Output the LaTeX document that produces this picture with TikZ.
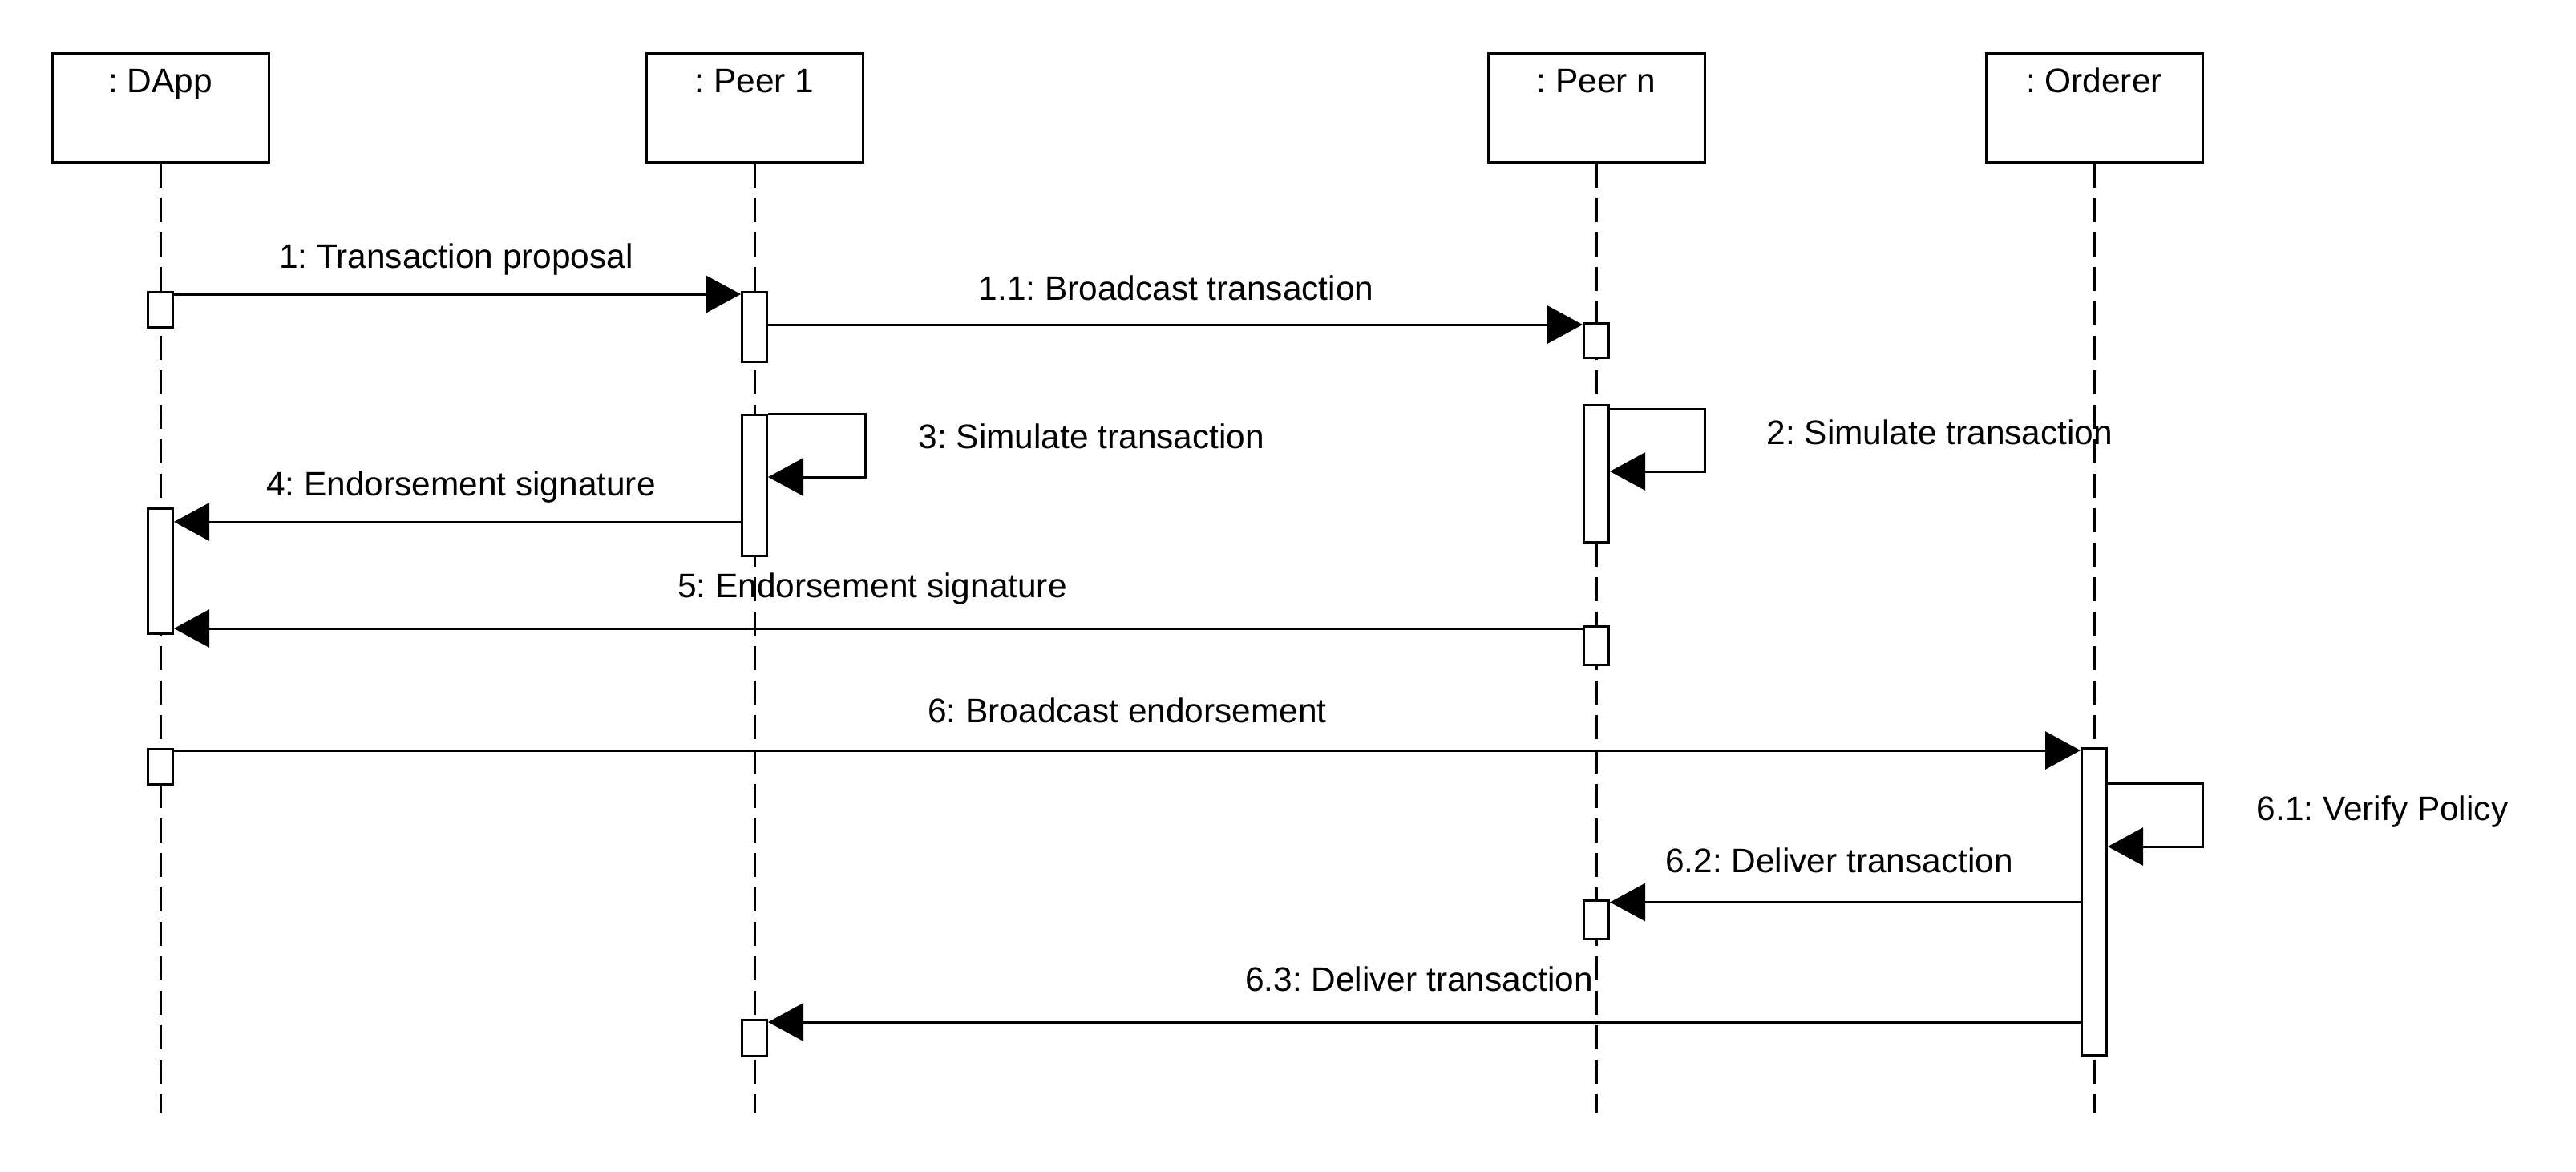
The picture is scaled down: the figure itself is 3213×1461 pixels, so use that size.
\documentclass[tikz,border=0pt]{standalone}
\usepackage{fontspec}
\setmainfont{Liberation Sans}
\frenchspacing
\usetikzlibrary{arrows.meta}

\begin{document}
\begin{tikzpicture}[x=0.25pt, y=-0.25pt,
    every node/.style={font=\fontsize{10.6pt}{12pt}\selectfont},
    head/.style={draw, line width=.75pt, anchor=base, inner sep=0pt,
      minimum width=67.5pt, text height=12.25pt, text depth=21.75pt},
    act/.style={draw, fill=white, line width=.75pt, anchor=north,
      inner sep=0pt, minimum width=7.75pt},
    life/.style={line width=.75pt, dash pattern=on 7.5pt off 3.25pt},
    msg/.style={line width=.75pt, -{Triangle[length=11pt, width=11.75pt]}},
    lbl/.style={anchor=base, inner sep=0pt}]
  \useasboundingbox (0,0) rectangle (3213,1461);

  % Lifeline heads
  \node[head] (dapp) at (200,115) {: DApp};
  \node[head] (peer1) at (941,115) {: Peer 1};
  \node[head] (peern) at (1991,115) {: Peer n};
  \node[head] (orderer) at (2612,115) {: Orderer};

  \coordinate (bottom) at (0,1388);
  \foreach \n in {dapp,peer1,peern,orderer}
    \draw[life] (\n.south) -- (\n.south |- bottom);

  % Activations
  \node[act, minimum height=11pt] (d1) at (200,363) {};
  \node[act, minimum height=39pt] (d2) at (200,633) {};
  \node[act, minimum height=11pt] (d3) at (200,933) {};
  \node[act, minimum height=21.75pt] (p1) at (941,363) {};
  \node[act, minimum height=44pt] (p2) at (941,516) {};
  \node[act, minimum height=11.25pt] (p3) at (941,1271) {};
  \node[act, minimum height=10.75pt] (n1) at (1991,402) {};
  \node[act, minimum height=42.75pt] (n2) at (1991,504) {};
  \node[act, minimum height=12pt] (n3) at (1991,780) {};
  \node[act, minimum height=12pt] (n4) at (1991,1122) {};
  \node[act, minimum height=95.75pt] (o1) at (2612,932) {};

  % Self calls
  \coordinate (c3) at (1079,595);
  \coordinate (c2) at (2126,588);
  \coordinate (c61) at (2747,1056);

  % Messages
  \draw[msg] ([yshift=-1pt]d1.north east) -- ([yshift=-1pt]d1.north east -| p1.west);
  \draw[msg] ([yshift=-.75pt]n1.north west -| p1.east) -- ([yshift=-.75pt]n1.north west);
  \draw[msg] (p2.north east) -| (c3) -- (p2.east |- c3);
  \draw[msg] ([yshift=-1.5pt]n2.north east) -| (c2) -- (n2.east |- c2);
  \draw[msg] ([yshift=-4.5pt]d2.north east -| p2.west) -- ([yshift=-4.5pt]d2.north east);
  \draw[msg] ([yshift=-1pt]n3.north west) -- ([yshift=-1pt]n3.north west -| d2.east);
  \draw[msg] ([yshift=-.75pt]d3.north east) -- ([yshift=-.75pt]d3.north east -| o1.west);
  \draw[msg] ([yshift=-11.25pt]o1.north east) -| (c61) -- (o1.east |- c61);
  \draw[msg] ([yshift=-.875pt]n4.north east -| o1.west) -- ([yshift=-.875pt]n4.north east);
  \draw[msg] ([yshift=-1pt]p3.north east -| o1.west) -- ([yshift=-1pt]p3.north east);

  % Labels
  \node[lbl] (l1) at (569,334) {1: Transaction proposal};
  \node[lbl] (l11) at (1467,374) {1.1: Broadcast transaction};
  \node[lbl, anchor=base west] (l3) at (1145,559) {3: Simulate transaction};
  \node[lbl, anchor=base west] (l2) at (2203,554) {2: Simulate transaction};
  \node[lbl] (l4) at (575,618) {4: Endorsement signature};
  \node[lbl] (l5) at (1088,745) {5: Endorsement signature};
  \node[lbl] (l6) at (1406,901) {6: Broadcast endorsement};
  \node[lbl, anchor=base west] (l61) at (2814,1023) {6.1: Verify Policy};
  \node[lbl] (l62) at (2294,1088) {6.2: Deliver transaction};
  \node[lbl] (l63) at (1770,1236) {6.3: Deliver transaction};
\end{tikzpicture}
\end{document}
